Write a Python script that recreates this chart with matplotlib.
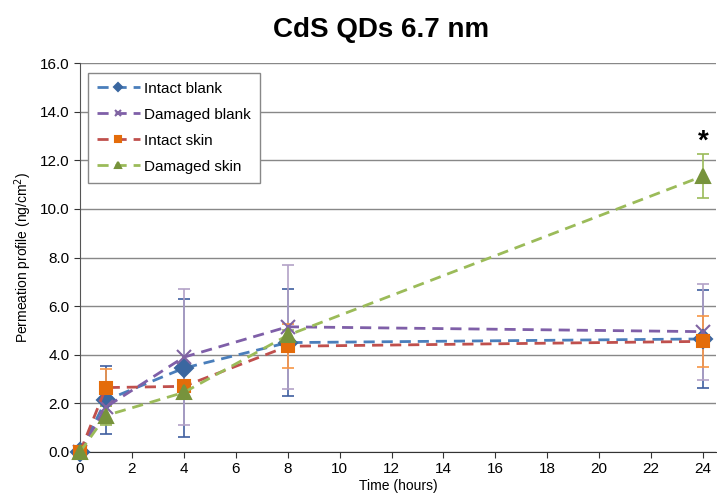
import numpy as np
import matplotlib.pyplot as plt

plt.rcParams['font.family'] = ['Liberation Sans', 'DejaVu Sans']

time = [0, 1, 4, 8, 24]

intact_blank = [0.0, 2.13, 3.45, 4.5, 4.65]
intact_blank_err = [0.0, 1.4, 2.85, 2.2, 2.0]

damaged_blank = [0.0, 1.85, 3.9, 5.15, 4.95]
damaged_blank_err = [0.0, 0.7, 2.8, 2.55, 1.97]

intact_skin = [0.0, 2.65, 2.7, 4.35, 4.55]
intact_skin_err = [0.0, 0.75, 0.2, 0.9, 1.05]

damaged_skin = [0.0, 1.5, 2.45, 4.8, 11.35]
damaged_skin_err = [0.0, 0.4, 0.2, 0.2, 0.9]

series = [
    ('Intact blank', intact_blank, intact_blank_err, '#4A7EBB', '#3A67A0', '#3F5FA0', 'D', 9),
    ('Damaged blank', damaged_blank, damaged_blank_err, '#7F5FA8', '#8064A2', '#B3A2C7', 'x', 10),
    ('Intact skin', intact_skin, intact_skin_err, '#C0504D', '#E46C0A', '#F79646', 's', 9),
    ('Damaged skin', damaged_skin, damaged_skin_err, '#9BBB59', '#77933C', '#9BBB59', '^', 10),
]

fig = plt.figure(figsize=(7.17, 4.99), dpi=100)
ax = fig.add_axes([0.1116, 0.0942, 0.887, 0.7795])

for label, y, err, lc, mc, ec, m, ms in series:
    ax.errorbar(time, y, yerr=err, fmt='none', ecolor=ec, elinewidth=1.2,
                capsize=4, capthick=1.2, zorder=3, clip_on=False)
    ax.plot(time, y, linestyle=(0, (4, 2.5)), color=lc, linewidth=2,
            marker=m, markersize=ms, markerfacecolor=mc, markeredgecolor=mc,
            markeredgewidth=1.5, label=label, zorder=4, clip_on=False)

ax.text(24, 12.25, '*', ha='center', va='bottom', fontsize=20, fontweight='bold')

ax.set_xlim(0, 24.5)
ax.set_ylim(0, 16)
ax.set_xticks(np.arange(0, 25, 2))
ax.set_yticks(np.arange(0, 17, 2))
ax.set_yticklabels([f'{v:.1f}' for v in np.arange(0, 17, 2)])
ax.tick_params(labelsize=11, direction='out', length=4, color='#333333')
ax.yaxis.grid(True, color='#888888', linewidth=1)
ax.set_axisbelow(True)
for s in ['top', 'right']:
    ax.spines[s].set_visible(False)
ax.spines['left'].set_color('#555555')
ax.spines['bottom'].set_color('#333333')

ax.set_xlabel('Time (hours)', fontsize=10, labelpad=2)
ax.set_ylabel('Permeation profile (ng/cm$^2$)', fontsize=10)
fig.text(0.532, 0.94, 'CdS QDs 6.7 nm', ha='center', va='center',
         fontsize=20, fontweight='bold')

leg = ax.legend(loc='upper left', bbox_to_anchor=(0.0, 0.995), fontsize=11,
                fancybox=False, edgecolor='#888888', framealpha=1,
                handlelength=2.8, handletextpad=0.3, markerscale=0.45,
                borderpad=0.6, labelspacing=0.78)
leg.get_frame().set_linewidth(1)

fig.savefig('out.png', dpi=100)
